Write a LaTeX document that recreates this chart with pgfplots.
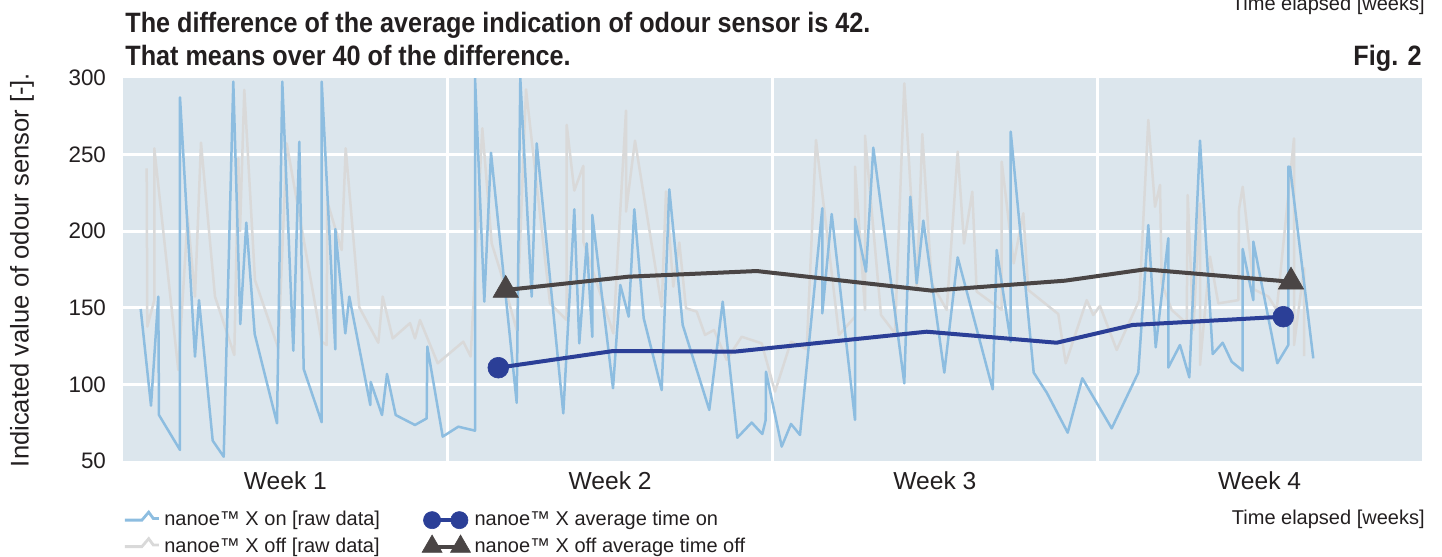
\documentclass[border=0pt]{standalone}
\usepackage{pgfplots}
\pgfplotsset{compat=1.18}
\usepackage{fontspec}
\setmainfont{Liberation Sans}
\newfontfamily\titlefont[FakeStretch=0.9]{Liberation Sans}
\definecolor{bgc}{RGB}{220,230,237}
\definecolor{bluraw}{RGB}{141,189,224}
\definecolor{grayraw}{RGB}{217,217,217}
\definecolor{avgon}{RGB}{43,63,151}
\definecolor{avgoff}{RGB}{74,69,69}
\definecolor{txt}{RGB}{35,31,32}
\begin{document}
\begin{tikzpicture}
\begin{axis}[
  at={(0pt,0pt)}, anchor=south west,
  scale only axis, width=649.5pt, height=191.5pt,
  xmin=0, xmax=1299, ymin=50, ymax=300,
  axis background/.style={fill=bgc},
  axis line style={draw=none},
  major tick length=0pt,
  xtick={324.75,649.5,974.25}, xticklabels={},
  extra x ticks={162.4,487.1,811.9,1136.6},
  extra x tick labels={Week 1,Week 2,Week 3,Week 4},
  extra x tick style={grid=none, tick label style={font=\fontsize{12.3}{14}\selectfont, text=txt, yshift=-2pt}},
  ytick={100,150,200,250},
  extra y ticks={50,300},
  extra y tick style={grid=none},
  grid=major, major grid style={white, line width=1.5pt},
  yticklabel style={font=\fontsize{11.2}{13}\selectfont, text=txt, xshift=-5pt},
  /pgf/number format/assume math mode=true,
  legend columns=2, legend cell align=left,
  legend style={at={(0,0)}, anchor=north west, yshift=-23pt, draw=none, fill=none,
    inner sep=0pt, font=\fontsize{10}{11}\selectfont, text=txt,
    /tikz/every even column/.append style={column sep=19pt},
    row sep=0.5pt},
]
\addlegendimage{color=bluraw, line width=1.4pt, legend image code/.code={\draw (0cm,0cm)--(0.3cm,0cm)--(0.42cm,0.14cm)--(0.5cm,0.03cm)--(0.6cm,0.03cm);}}
\addlegendentry{nanoe™ X on [raw data]}
\addlegendimage{color=avgon, line width=2pt, mark=*, mark size=4.3pt, mark options={line width=0.3pt}, legend image code/.code={\draw plot coordinates {(0.1cm,0cm) (0.58cm,0cm)};}}
\addlegendentry{nanoe™ X average time on}
\addlegendimage{color=grayraw, line width=1.4pt, legend image code/.code={\draw (0cm,0cm)--(0.3cm,0cm)--(0.42cm,0.14cm)--(0.5cm,0.03cm)--(0.6cm,0.03cm);}}
\addlegendentry{nanoe™ X off [raw data]}
\addlegendimage{color=avgoff, line width=2pt, mark=triangle*, mark size=5.8pt, mark options={line width=0.3pt}, legend image code/.code={\draw plot coordinates {(0.1cm,0cm) (0.6cm,0cm)};}}
\addlegendentry{nanoe™ X off average time off}

% raw data, nanoe X off
\addplot[forget plot, color=grayraw, line width=1.25pt, line join=round] coordinates {
(23.7,241) (24.3,137.7) (31.3,155) (31.3,254.1) (55.3,109.4) (64.7,209.5) (72,157.3) (78,257.8)
(92,157.3) (111.3,119.2) (115.3,247.6) (117,200) (121.3,292.2) (132,168) (155.3,123.6) (163.7,257.3)
(198.7,127.9) (203.7,125.7) (204.3,219.3) (218.7,187.7) (222.7,254.1) (236.3,150.3) (255.3,127.2)
(259.7,157.3) (269.7,130) (287,140) (292,130) (297,142) (314.7,113.8) (340.3,127.9) (347.7,118.2)
(359.3,267.2) (368.7,192) (377,174.7) (393.7,135.5) (403,292.6) (427,152.9) (443.7,142) (443.7,269.4)
(451.3,226.5) (460.3,242.6) (460.3,193.2) (490.3,133.3) (503,278.7) (503,212.8) (512,259.1)
(538.7,150.8) (543,225.9) (550.3,163.8) (556.3,192.6) (563,149.7) (573.7,147.5) (582,132.3)
(591,135.5) (603.7,116) (618.7,131.1) (638.7,126.8) (652,95.3) (668,127.9) (683.7,122.9)
(693,259.5) (716,132.3) (732,144.2) (732,242.1) (742,148.6) (742,262.4) (758,145.3) (772,133.3)
(781.3,296.5) (793.7,161.6) (799.3,263.4) (808.7,166) (823.7,148.6) (834.7,251.9) (841,192)
(849.3,225.8) (853.7,160.6) (878.7,148.6) (878.7,245.4) (890.7,179) (900.3,211.7) (905.3,161.6)
(935.3,145.9) (942.7,113.8) (963.7,155) (970.3,145.3) (977,151.2) (993.7,122.5) (1016.3,155)
(1025.3,272.6) (1032,216) (1037,230.2) (1038.7,166) (1048.7,148.6) (1063.7,139.9) (1064.7,223.6)
(1070.3,135.5) (1077,218.2) (1077,112.7) (1087,183.4) (1095.3,152.9) (1115.3,155) (1116,214.3)
(1119.7,229) (1131,162) (1145.3,157.3) (1153.7,148.6) (1171,260.6) (1171,125.7) (1181,175.8)
(1181,118.5)
};

% raw data, nanoe X on
\addplot[forget plot, color=bluraw, line width=1.25pt, line join=round] coordinates {
(17.7,149.2) (28,86.1) (35.3,157.3) (36,80) (57,57.2) (57,287.4) (72,118.1) (76,155) (89.7,63.3)
(100.7,52.8) (110.3,297.6) (117.3,139.4) (123.3,205.6) (131.7,132.9) (154,74.6) (159.3,297.6)
(170.3,122) (176.3,258.4) (180.7,110) (198.7,75.3) (198.7,297.6) (212.3,122.9) (212.3,201.4)
(222.3,133.3) (226.3,157.3) (247.3,86.5) (247.7,101.6) (259,80) (264,106.8) (272.7,80) (292,73.5)
(303.7,77.8) (304.3,124.7) (319.7,65.9) (335.3,72.4) (352,69.8) (352,300.8) (361.3,154) (368,251.2)
(393.7,88) (397.3,300) (408.7,157.3) (413.7,257.3) (440.3,81.1) (451.3,214.3) (456.3,126.8)
(463.7,192) (469.3,131) (469.3,210.6) (490,97.5) (497.3,164.9) (505.7,144.2) (511.3,214.3)
(520.7,143.2) (538.7,96.3) (546.3,227.3) (559.7,138.8) (586.3,83.3) (599.7,154) (614.3,65.2)
(628.7,75.1) (639.3,67.6) (642.7,76.8) (643,108.3) (658.7,59.4) (668,74.2) (677,67) (699.3,215)
(699.3,146.4) (708.7,211.2) (732,76.8) (732,208) (743,173.6) (750.3,254.5) (781.3,100.7)
(787.3,222.5) (793.7,166) (800.3,206.9) (821.3,107.7) (834.7,182.9) (869.7,96.8) (873.7,187.7)
(887.7,127.9) (887.7,265) (910.7,107.7) (923.7,94.7) (944.7,68.5) (959.3,104) (988.7,71.3)
(1015.3,107.7) (1025.3,204) (1032.7,124.2) (1045.3,195.4) (1045.3,111) (1057,125.7) (1066.3,104.6)
(1077,259.1) (1089.7,119.8) (1099.7,127.2) (1108.7,114.8) (1119.7,109) (1119.7,188.4) (1130.3,155)
(1130.3,193.2) (1154.3,113.8) (1165.3,125.7) (1165.3,242.1) (1167,242) (1190.3,117)
};

% averages
\addplot[forget plot, color=avgon, line width=2pt, mark=*, mark size=5.2pt, mark options={line width=0.3pt},
  mark indices={1,7}] coordinates {
(375.3,110.9) (490.3,121.8) (612,121.4) (803.7,134.4) (933.7,127.2) (1009.7,138.8) (1160.3,144.2)
};
\addplot[forget plot, color=avgoff, line width=2pt, mark=triangle*, mark size=7.3pt, mark options={line width=0.3pt},
  mark indices={1,7}] coordinates {
(382.7,161.6) (505.3,170.3) (633.7,174) (808.7,161.2) (942,167.7) (1022,175.1) (1168,167)
};
\end{axis}

\node[anchor=base west, text=txt, inner sep=0pt, font=\titlefont\bfseries\fontsize{14}{16}\selectfont] at (1pt,214pt)
  {The difference of the average indication of odour sensor is 42.};
\node[anchor=base west, text=txt, inner sep=0pt, font=\titlefont\bfseries\fontsize{14}{16}\selectfont] at (1pt,197.5pt)
  {That means over 40 of the difference.};
\node[anchor=base east, text=txt, font=\titlefont\bfseries\fontsize{14}{16}\selectfont, inner sep=0pt] at (649.5pt,197.5pt)
  {Fig. 2};
\node[anchor=base east, text=txt, font=\fontsize{10}{12}\selectfont, inner sep=0pt] at (651pt,225pt)
  {Time elapsed [weeks]};
\node[anchor=base east, text=txt, font=\fontsize{10}{12}\selectfont, inner sep=0pt] at (651pt,-32pt)
  {Time elapsed [weeks]};
\node[rotate=90, text=txt, font=\fontsize{12.8}{14}\selectfont] at (-50.5pt,95.5pt)
  {Indicated value of odour sensor [-].};

\pgfresetboundingbox
\useasboundingbox (-61.5pt,-48pt) rectangle (659.5pt,230.5pt);
\end{tikzpicture}
\end{document}
